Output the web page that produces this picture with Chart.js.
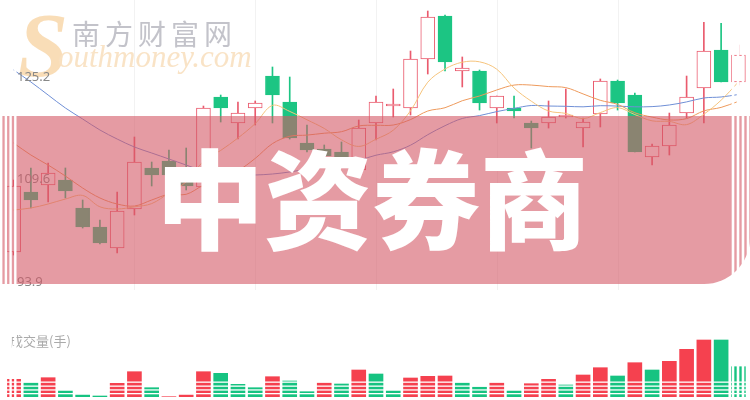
<!DOCTYPE html>
<html>
<head>
<meta charset="utf-8">
<script src="https://cdn.jsdelivr.net/npm/chart.js"></script>
<style>
  html, body { margin: 0; padding: 0; background: #fff; }
  #wrap { width: 750px; height: 400px; position: relative; }
</style>
</head>
<body>
<div id="wrap"><canvas id="kline" width="750" height="400"></canvas></div>
<script>
// daily candles
const opens  = [98.47,107.63,108.70,109.46,105.19,102.29,99.08,105.04,111.30,112.37,111.14,108.40,122.14,118.17,120.46,125.34,121.37,115.11,114.20,113.74,110.99,118.17,120.76,120.46,127.94,134.51,126.11,126.11,120.46,120.46,118.17,118.17,119.08,117.40,119.54,124.58,122.44,112.98,114.66,119.69,123.51,129.31,124.43];
const highs  = [109.46,111.30,112.06,111.30,106.41,103.36,107.63,116.03,112.21,114.04,114.35,120.76,122.44,121.37,121.53,126.72,125.19,117.86,114.81,115.27,118.63,122.29,123.36,129.16,135.27,134.66,128.25,126.26,122.29,122.29,118.47,121.53,123.36,118.93,124.89,124.73,122.75,114.96,119.69,125.34,133.54,133.39,130.08];
const lows   = [98.01,105.19,106.10,106.72,102.13,99.69,98.32,104.12,108.55,109.77,107.94,107.94,118.32,115.72,117.86,118.17,115.72,113.74,112.82,112.06,110.69,115.57,119.08,119.39,125.65,126.11,123.67,120.15,118.17,118.93,114.35,117.40,118.93,114.50,117.56,120.15,113.74,111.75,113.28,118.93,118.17,124.43,123.97];
const closes = [108.55,106.41,110.53,107.78,102.29,99.84,104.73,112.21,110.23,110.23,108.55,120.46,120.46,119.69,121.22,122.44,115.88,114.04,113.13,112.52,117.40,121.37,121.07,127.94,134.35,127.48,126.57,121.22,122.29,120.00,117.40,119.08,119.39,118.32,124.58,121.22,113.74,114.66,117.86,122.14,129.16,124.43,128.55];

// moving averages
const ma5  = [104.88,105.19,105.80,106.56,107.11,105.37,105.04,105.37,105.86,107.48,109.19,112.33,113.98,115.88,118.08,120.86,119.94,118.66,117.34,115.60,114.59,115.69,117.07,120.03,124.40,126.41,127.45,127.51,126.38,123.51,121.50,120.00,119.63,118.84,119.76,120.52,119.45,118.50,118.41,117.92,119.51,121.65,124.43];
const ma10 = [115.11,113.28,111.75,110.07,108.24,106.72,105.80,105.49,106.41,107.28,107.28,108.68,109.68,110.87,112.76,115.02,116.14,116.32,116.61,116.84,117.72,117.82,117.86,118.69,120.00,120.50,121.57,122.29,123.21,123.96,123.96,123.73,123.57,122.61,121.63,121.01,119.73,119.07,118.63,118.84,120.02,120.55,121.47];
const ma20 = [126.26,124.43,122.44,120.46,118.78,117.10,115.72,114.50,113.59,112.67,111.75,110.84,110.38,110.23,110.23,110.38,110.69,111.14,111.60,112.06,112.50,113.25,113.77,114.78,116.38,117.76,118.86,119.30,119.91,120.40,120.84,120.76,120.72,120.64,120.81,120.75,120.64,120.67,120.92,121.39,121.99,122.14,122.52];

// volume (手) and its colour: true = red
const volumes  = [17700,14300,19300,6300,2000,1000,13700,25300,9300,300,2000,25300,23700,12700,9300,20300,16000,5300,14300,13000,27000,23000,6300,19000,20700,21000,14300,10000,14300,6300,13300,17700,12000,22000,29300,21000,34300,27000,35700,47700,57000,57000,30300];
const volumeUp = [true,false,true,false,false,false,true,true,false,true,true,true,false,false,false,true,false,false,true,false,true,false,false,true,true,true,false,false,true,false,true,true,false,true,true,false,true,false,true,true,true,false,false];

const priceTicks = [125.2, 109.6, 93.9];
const gridDays = [7, 14, 21, 28, 35];
const days = opens.map((_, i) => 'D' + (i + 1));

const UP = '#ea5b6e';
const DOWN = '#1cc583';
const VOL_UP = '#f5414f';
const VOL_DOWN = '#16c381';

const isUp = opens.map((o, i) => closes[i] >= o);

const decor = {
	id: 'decor',
	beforeDatasetsDraw(chart) {
		const { ctx } = chart;
		const x = chart.scales.x;
		ctx.save();
		// faint vertical grid
		ctx.strokeStyle = 'rgba(0,0,0,0.05)';
		ctx.lineWidth = 1;
		gridDays.forEach(d => {
			const px = Math.round(x.getPixelForValue(d)) + 0.5;
			ctx.beginPath();
			ctx.moveTo(px, 0);
			ctx.lineTo(px, 290);
			ctx.stroke();
		});
		// watermark
		ctx.textBaseline = 'alphabetic';
		ctx.fillStyle = 'rgba(248,212,165,0.8)';
		ctx.font = 'italic bold 90px "Liberation Serif"';
		ctx.fillText('S', 18, 76);
		ctx.fillStyle = 'rgba(248,224,192,0.9)';
		ctx.font = 'italic 31px "Liberation Serif"';
		ctx.fillText('outhmoney.com', 58, 67);
		ctx.fillStyle = 'rgba(170,170,180,0.7)';
		ctx.font = '28px "Noto Sans CJK SC"';
		ctx.letterSpacing = '5px';
		ctx.fillText('南方财富网', 72, 45);
		ctx.restore();
	},
	afterDatasetsDraw(chart) {
		const { ctx } = chart;
		const y = chart.scales.y;
		ctx.save();
		ctx.fillStyle = '#888';
		ctx.font = '13px "Noto Sans"';
		ctx.textBaseline = 'middle';
		ctx.textAlign = 'left';
		priceTicks.forEach(t => {
			ctx.fillText(t.toFixed(1), 17, y.getPixelForValue(t));
		});
		ctx.fillStyle = '#aaa';
		ctx.font = '13px "Noto Sans CJK SC"';
		ctx.fillText('成交量(手)', 10, 341);
		ctx.restore();
	},
	afterDraw(chart) {
		const { ctx } = chart;
		ctx.save();
		// pink banner with rounded bottom-right corner
		const top = 116, bottom = 284, right = 750, r = 46;
		ctx.fillStyle = 'rgba(212,88,102,0.6)';
		ctx.beginPath();
		ctx.moveTo(0, top);
		ctx.lineTo(right, top);
		ctx.lineTo(right, bottom - r);
		ctx.arcTo(right, bottom, right - r, bottom, r);
		ctx.lineTo(0, bottom);
		ctx.closePath();
		ctx.fill();
		// title
		ctx.fillStyle = '#fff';
		ctx.font = '900 108px "Noto Sans CJK SC"';
		ctx.textAlign = 'center';
		ctx.textBaseline = 'alphabetic';
		ctx.fillText('中资券商', 372, 241);
		// white stripes on both sides
		ctx.fillStyle = '#fff';
		[0, 4.7, 9.4, 14.1].forEach(sx => ctx.fillRect(sx, 0, 2.4, 400));
		[731.7, 736.7, 741.7, 746.7].forEach(sx => ctx.fillRect(sx, 0, 2.6, 400));
		// horizontal stripes through the volume bars
		[381.5, 385.5, 389.3, 393].forEach(sy => ctx.fillRect(0, sy, 750, 1.3));
		ctx.restore();
	}
};

const ctx = document.getElementById('kline');
new Chart(ctx, {
	data: {
		labels: days,
		datasets: [
			{
				type: 'line', label: 'MA5', data: ma5, yAxisID: 'y',
				borderColor: '#f6c47c', borderWidth: 1, pointRadius: 0, tension: 0.35, order: 0
			},
			{
				type: 'line', label: 'MA10', data: ma10, yAxisID: 'y',
				borderColor: '#ee9a5c', borderWidth: 1, pointRadius: 0, tension: 0.35, order: 0
			},
			{
				type: 'line', label: 'MA20', data: ma20, yAxisID: 'y',
				borderColor: '#6f8fd6', borderWidth: 1, pointRadius: 0, tension: 0.35, order: 0
			},
			{
				type: 'bar', label: 'body', yAxisID: 'y',
				data: opens.map((o, i) => [o, closes[i]]),
				backgroundColor: isUp.map(u => u ? '#ffffff' : DOWN),
				borderColor: isUp.map(u => u ? UP : DOWN),
				borderWidth: 1, borderSkipped: false,
				barThickness: 14, grouped: false, order: 2
			},
			{
				type: 'bar', label: 'wick', yAxisID: 'y',
				data: lows.map((l, i) => [l, highs[i]]),
				backgroundColor: isUp.map(u => u ? UP : DOWN),
				barThickness: 1, grouped: false, order: 3
			},
			{
				type: 'bar', label: 'volume', yAxisID: 'yv',
				data: volumes,
				backgroundColor: volumeUp.map(u => u ? VOL_UP : VOL_DOWN),
				barThickness: 14, grouped: false, order: 4
			}
		]
	},
	options: {
		responsive: false,
		animation: false,
		devicePixelRatio: 1,
		layout: { padding: { left: 5, right: 3, top: 0, bottom: 3 } },
		plugins: { legend: { display: false }, tooltip: { enabled: false } },
		scales: {
			x: { type: 'category', display: false, offset: true },
			y: { display: false, min: 76.33, max: 136.95 },
			yv: { display: false, min: 0, max: 397000 }
		}
	},
	plugins: [decor]
});
</script>
</body>
</html>
